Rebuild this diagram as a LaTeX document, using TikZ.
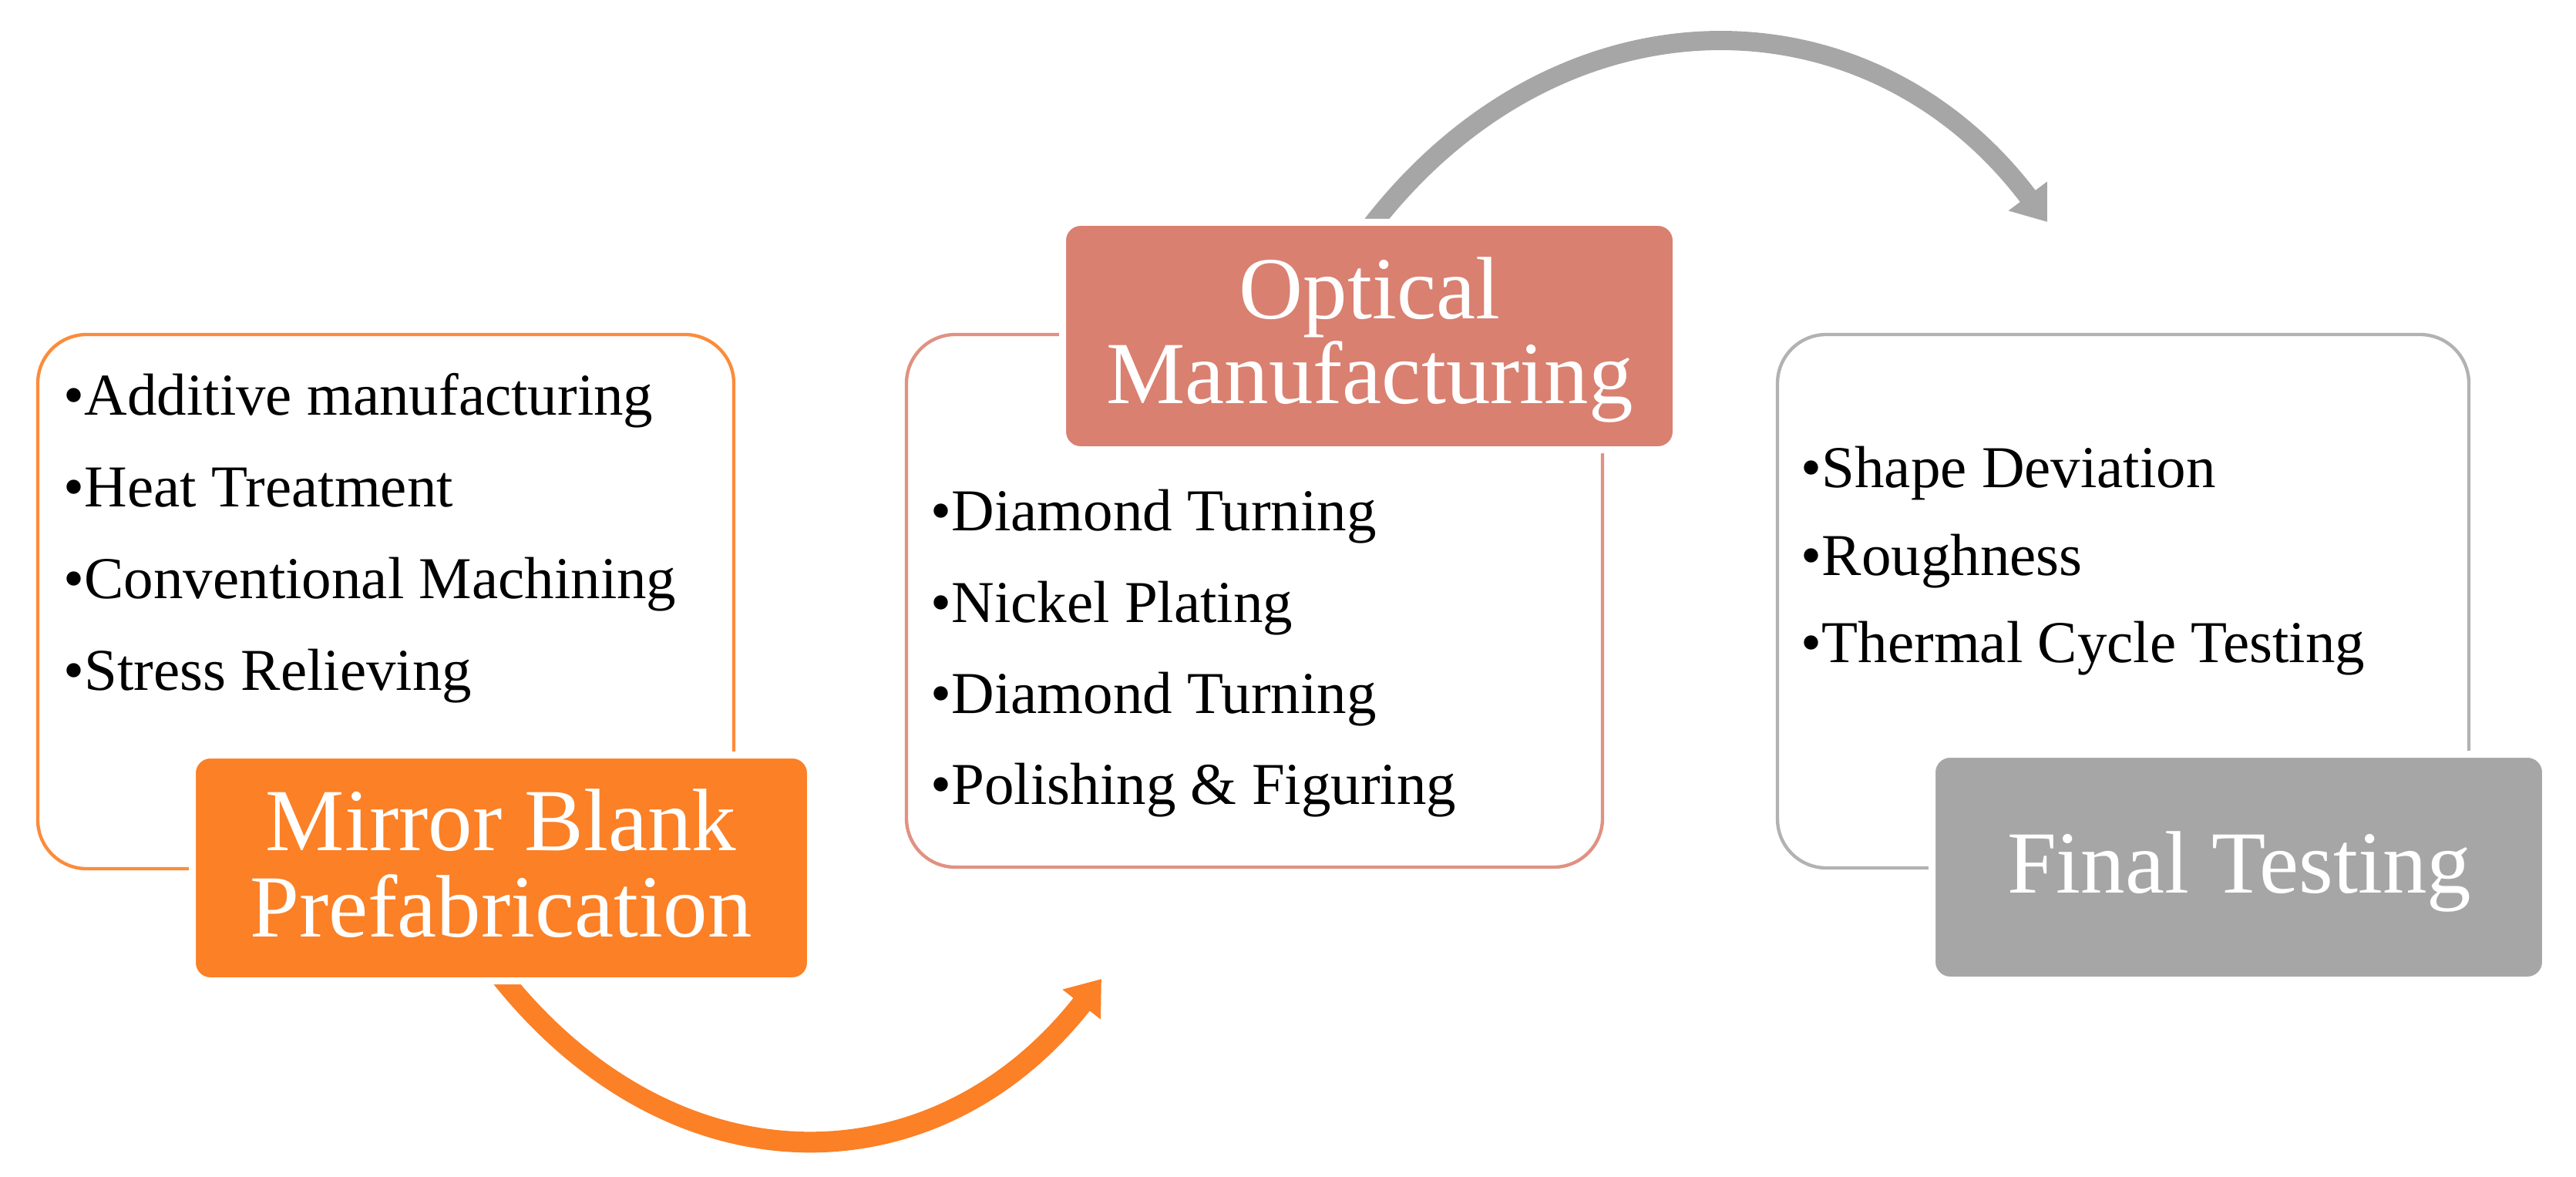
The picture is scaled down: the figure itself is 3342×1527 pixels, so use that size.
\documentclass[tikz,border=0pt]{standalone}
\usepackage{fontspec}
\setmainfont{Liberation Serif}
\usetikzlibrary{arrows.meta,fit}
\definecolor{orgF}{RGB}{251,128,38}
\definecolor{orgL}{RGB}{251,140,60}
\definecolor{salF}{RGB}{217,128,112}
\definecolor{salL}{RGB}{224,145,130}
\definecolor{gryF}{RGB}{166,166,166}
\definecolor{gryL}{RGB}{178,178,178}
\begin{document}
\begin{tikzpicture}[x=0.3pt,y=-0.3pt,
  outbox/.style={draw=#1, line width=1.3pt, rounded corners=19pt, fill=white, inner sep=0pt},
  titlebox/.style={fill=#1, draw=white, line width=2.7pt, rounded corners=7pt, inner sep=0pt},
  ttl/.style={text=white, anchor=base, inner sep=0pt, font=\fontsize{34.5pt}{34pt}\selectfont},
  item/.style={anchor=base west, inner sep=0pt, font=\fontsize{23.1pt}{35pt}\selectfont},
  flow/.style={line width=#1, -{Triangle[length=12.6pt,width=18pt]}}
]
\useasboundingbox (0,0) rectangle (3342,1527);
\fill[white] (0,0) rectangle (3342,1527);

% outline boxes
\node[outbox=orgL, fit={(49,434) (952,1127)}] (lbox) {};
\node[outbox=salL, fit={(1176,434) (2079,1125)}] (mbox) {};
\node[outbox=gryL, fit={(2306,434) (3203,1126)}] (rbox) {};

% arrows
\coordinate (oa) at (645,1261);
\coordinate (ob) at (1429,1270);
\draw[orgF, flow=8.1pt] (oa) .. controls (872,1552) and (1214,1545) .. (ob);
\coordinate (ga) at (1773,301);
\coordinate (gb) at (2656,288);
\draw[gryF, flow=7.5pt] (ga) .. controls (2018,-24) and (2423,-21) .. (gb);

% title boxes
\node[titlebox=orgF, fit={(249.5,979.5) (1051.5,1272.5)}] (lttl) {};
\node[titlebox=salF, fit={(1378.5,288.5) (2174.5,583.5)}] (mttl) {};
\node[titlebox=gryF, fit={(2506.5,978.5) (3302.5,1271.5)}] (rttl) {};

% title texts
\node[ttl] (lt1) at (650,1103) {Mirror Blank};
\node[ttl] (lt2) at (650,1215) {Prefabrication};
\node[ttl] (mt1) at (1777,414) {Optical};
\node[ttl] (mt2) at (1777,524) {Manufacturing};
\node[ttl] (rt1) at (2905,1158) {Final Testing};

% items
\node[item] (l1) at (82,538) {•Additive manufacturing};
\node[item] (l2) at (82,657) {•Heat Treatment};
\node[item] (l3) at (82,776) {•Conventional Machining};
\node[item] (l4) at (82,895) {•Stress Relieving};

\node[item] (m1) at (1207,688) {•Diamond Turning};
\node[item] (m2) at (1207,807) {•Nickel Plating};
\node[item] (m3) at (1207,925) {•Diamond Turning};
\node[item] (m4) at (1207,1043) {•Polishing \& Figuring};

\node[item] (r1) at (2336,632) {•Shape Deviation};
\node[item] (r2) at (2336,746) {•Roughness};
\node[item] (r3) at (2336,859) {•Thermal Cycle Testing};
\end{tikzpicture}
\end{document}
